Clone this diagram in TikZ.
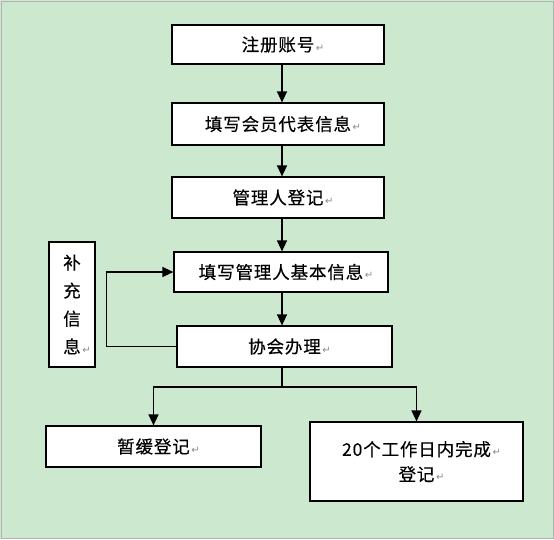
\documentclass[tikz,border=0pt]{standalone}
\usepackage{fontspec}
\setmainfont{Noto Sans CJK SC}[LetterSpace=5,FakeBold=0.3]
\newfontfamily\retfont{DejaVu Sans}
\usetikzlibrary{arrows.meta}
\definecolor{bggreen}{HTML}{CCE8CF}
\definecolor{retgray}{HTML}{8A8A8A}
\newcommand{\retmark}{\rlap{\retfont\color{retgray}\fontsize{10}{10}\selectfont\,↵}}
\begin{document}
\begin{tikzpicture}[x=1pt,y=-1pt,
  box/.style={draw=black,line width=1.2pt,fill=white,inner sep=0pt,
    font=\fontsize{17.5}{25}\selectfont,align=center},
  link/.style={line width=1.4pt},
  arr/.style={link,-{Triangle[length=11pt,width=10pt]}}]
\fill[bggreen] (0,0) rectangle (554,539);
\draw[gray!60,line width=0.8pt] (1,1) rectangle (553,538);
\useasboundingbox (0,0) rectangle (554,539);
\coordinate (ax) at (282,0);
\coordinate (br) at (282,387);
\node[box,minimum width=212pt,minimum height=39pt] (n1) at (278,44.5) {注册账号\retmark};
\node[box,minimum width=212pt,minimum height=42pt] (n2) at (278,124) {填写会员代表信息\retmark};
\node[box,minimum width=212pt,minimum height=41pt] (n3) at (278,197.5) {管理人登记\retmark};
\node[box,minimum width=214pt,minimum height=40pt] (n4) at (281,272) {填写管理人基本信息\retmark};
\node[box,minimum width=215pt,minimum height=41pt] (n5) at (284.5,346.5) {协会办理\retmark};
\node[box,minimum width=46pt,minimum height=125pt,font=\fontsize{17.5}{28}\selectfont] (side) at (72,304.5) {补\\充\\信\\息\retmark};
\node[box,minimum width=215pt,minimum height=41pt] (n6) at (153.5,446.5) {暂缓登记\retmark};
\node[box,minimum width=213pt,minimum height=79pt] (n7) at (416.5,461.5) {20个工作日内完成\retmark\\登记\retmark};
\draw[arr] (n1.south -| ax) -- (n2.north -| ax);
\draw[arr] (n2.south -| ax) -- (n3.north -| ax);
\draw[arr] (n3.south -| ax) -- (n4.north -| ax);
\draw[arr] (n4.south -| ax) -- (n5.north -| ax);
\draw[arr] (n5.west) -- ++(-70,0) |- (n4.west);
\draw[link] (n5.south -| br) -- (br);
\draw[arr] (br) -| (n6.north);
\draw[arr] (br) -| (n7.north);
\end{tikzpicture}
\end{document}
